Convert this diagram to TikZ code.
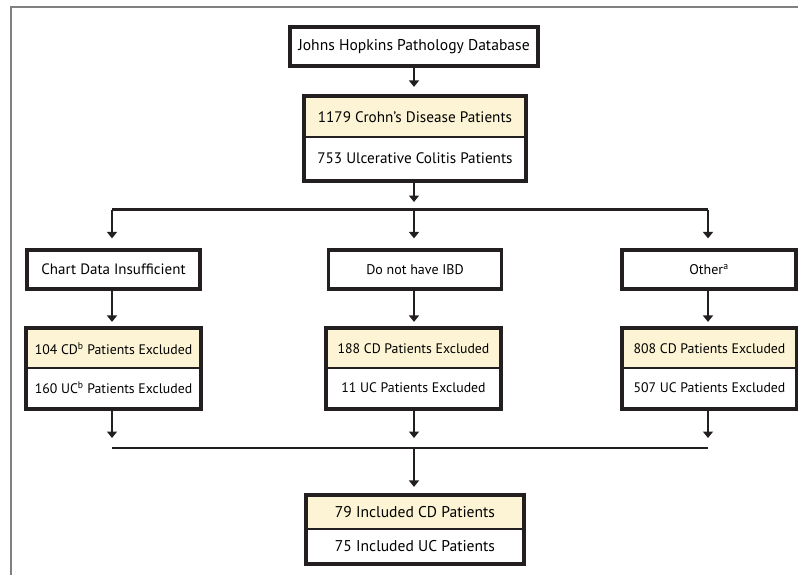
\documentclass[tikz,border=0pt]{standalone}
\usepackage{fontspec}
\setmainfont{PT Sans}
\usetikzlibrary{arrows.meta,positioning}

\definecolor{boxline}{RGB}{35,31,32}
\definecolor{cdfill}{RGB}{252,244,212}

\begin{document}
\begin{tikzpicture}[x=1pt,y=-1pt,
    box/.style={draw=boxline, line width=3.2pt, fill=white, inner sep=0pt, minimum height=39pt, font=\fontsize{15}{18}\selectfont},
    half/.style={draw=boxline, line width=2.2pt, inner sep=0pt, minimum height=39pt, font=\fontsize{13.8}{17}\selectfont},
    cdhalf/.style={half, fill=cdfill},
    uchalf/.style={half, fill=white},
    outline/.style={draw=boxline, line width=3.2pt},
    link/.style={draw=boxline, line width=2.6pt},
    arrow/.style={link, -{Triangle[width=10pt,length=6.5pt]}}]

    \useasboundingbox (0,0) rectangle (798,575);
    \draw[gray, line width=1.3pt] (11,575) -- (11,7) -- (798,7);

    % database and totals
    \node[box, minimum width=248pt, font=\fontsize{15.6}{19}\selectfont] (db) at (414,46.5) {Johns Hopkins Pathology Database};
    \node[cdhalf, minimum width=220pt, minimum height=40pt, font=\fontsize{15.2}{18}\selectfont] (cdAll) at (415,117) {1179 Crohn’s Disease Patients};
    \node[uchalf, minimum width=220pt, minimum height=43pt, font=\fontsize{15.2}{18}\selectfont] (ucAll) at (415,158.5) {753 Ulcerative Colitis Patients};
    \draw[outline] (cdAll.north west) rectangle (ucAll.south east);

    \coordinate (split) at (414,209.5);
    \coordinate (merge) at (414,448);

    % exclusion reasons
    \node[box, minimum width=173pt] (chart) at (113.5,269.5) {Chart Data Insufficient};
    \node[box, minimum width=173pt, font=\fontsize{14}{17}\selectfont] (noibd) at (415,269.5) {Do not have IBD};
    \node[box, minimum width=174pt, font=\fontsize{14}{17}\selectfont] (other) at (709,269.5) {Other\textsuperscript{a}};

    % excluded counts
    \node[cdhalf, minimum width=173pt] (cdA) at (113.5,348.5) {104 CD\textsuperscript{b} Patients Excluded};
    \node[uchalf, minimum width=173pt, minimum height=40pt] (ucA) at (113.5,388) {160 UC\textsuperscript{b} Patients Excluded};
    \draw[outline] (cdA.north west) rectangle (ucA.south east);
    \node[cdhalf, minimum width=173pt] (cdB) at (413.5,348.5) {188 CD Patients Excluded};
    \node[uchalf, minimum width=173pt, minimum height=40pt] (ucB) at (413.5,388) {11 UC Patients Excluded};
    \draw[outline] (cdB.north west) rectangle (ucB.south east);
    \node[cdhalf, minimum width=173pt] (cdC) at (709.5,348.5) {808 CD Patients Excluded};
    \node[uchalf, minimum width=173pt, minimum height=40pt] (ucC) at (709.5,388) {507 UC Patients Excluded};
    \draw[outline] (cdC.north west) rectangle (ucC.south east);

    % included
    \node[cdhalf, minimum width=216pt, minimum height=33pt, font=\fontsize{15.6}{19}\selectfont] (cdIn) at (415,512.5) {79 Included CD Patients};
    \node[uchalf, minimum width=216pt, minimum height=34pt, font=\fontsize{15.6}{19}\selectfont] (ucIn) at (415,546) {75 Included UC Patients};
    \draw[outline] (cdIn.north west) rectangle (ucIn.south east);

    % connectors
    \draw[arrow, shorten >=9pt] (db.south) -- (db.south |- cdAll.north);
    \draw[arrow, shorten >=7.5pt] (ucAll.south -| split) -- (split);
    \draw[link] (112,209.5) coordinate (splitL) -- (708,209.5) coordinate (splitR);
    \draw[arrow, shorten >=10pt] (splitL) -- (splitL |- chart.north);
    \draw[arrow, shorten >=10pt] (split) -- (split |- noibd.north);
    \draw[arrow, shorten >=10pt] (splitR) -- (splitR |- other.north);

    \draw[arrow, shorten >=6pt] (splitL |- chart.south) -- (splitL |- cdA.north);
    \draw[arrow, shorten >=6pt] (split |- noibd.south) -- (split |- cdB.north);
    \draw[arrow, shorten >=6pt] (splitR |- other.south) -- (splitR |- cdC.north);

    \draw[arrow, shorten >=10pt] (splitL |- ucA.south) -- (splitL |- merge);
    \draw[arrow, shorten >=10pt] (split |- ucB.south) -- (merge);
    \draw[arrow, shorten >=10pt] (splitR |- ucC.south) -- (splitR |- merge);
    \draw[link] (splitL |- merge) -- (splitR |- merge);
    \draw[arrow, shorten >=8pt] (merge) -- (merge |- cdIn.north);
\end{tikzpicture}
\end{document}
